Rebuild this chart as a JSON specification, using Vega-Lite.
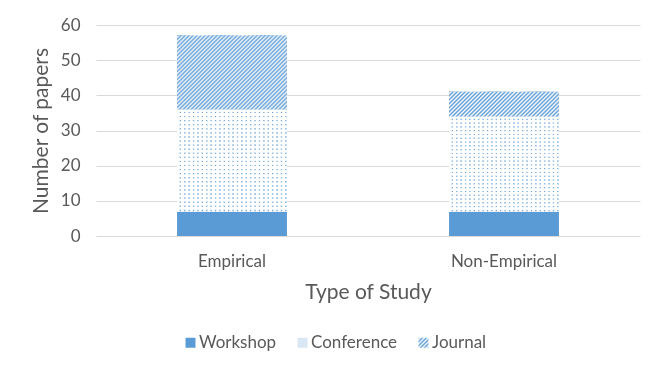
{
  "$schema": "https://vega.github.io/schema/vega-lite/v6.json",
  "width": 544,
  "height": 211,
  "autosize": "none",
  "padding": {"left": 96, "top": 25, "right": 12, "bottom": 132},
  "background": "white",
  "data": {
    "values": [
      {"study": "Empirical", "type": "Workshop", "papers": 7},
      {"study": "Empirical", "type": "Conference", "papers": 29},
      {"study": "Empirical", "type": "Journal", "papers": 21},
      {"study": "Non-Empirical", "type": "Workshop", "papers": 7},
      {"study": "Non-Empirical", "type": "Conference", "papers": 27},
      {"study": "Non-Empirical", "type": "Journal", "papers": 7}
    ]
  },
  "transform": [
    {"stack": "papers", "groupby": ["study"], "as": ["y0", "y1"]}
  ],
  "encoding": {
    "x": {
      "field": "study",
      "type": "nominal",
      "sort": ["Empirical", "Non-Empirical"],
      "scale": {"paddingInner": 0.596, "paddingOuter": 0.298},
      "axis": {
        "title": "Type of Study",
        "labelAngle": 0,
        "domain": false,
        "ticks": false,
        "labelPadding": 17,
        "titlePadding": 12,
        "labelFontSize": 17,
        "titleFontSize": 21
      }
    },
    "y": {
      "field": "y1",
      "type": "quantitative",
      "scale": {"domain": [0, 60]},
      "axis": {
        "title": "Number of papers",
        "values": [0, 10, 20, 30, 40, 50, 60],
        "domain": false,
        "ticks": false,
        "labelPadding": 16,
        "titlePadding": 9,
        "labelFontSize": 17,
        "titleFontSize": 21
      }
    },
    "y2": {"field": "y0"}
  },
  "layer": [
    {
      "transform": [{"filter": "datum.type === 'Journal'"}],
      "mark": {
        "type": "bar",
        "fill": {"gradient": "linear", "id": "jl", "x1": 0, "y1": 0, "x2": 1, "y2": 1, "stops": [
          {"offset": 0, "color": "#5b9bd5"}, {"offset": 0.1, "color": "#ffffff"},
          {"offset": 0.2, "color": "#5b9bd5"}, {"offset": 0.3, "color": "#ffffff"},
          {"offset": 0.4, "color": "#5b9bd5"}, {"offset": 0.5, "color": "#ffffff"},
          {"offset": 0.6, "color": "#5b9bd5"}, {"offset": 0.7, "color": "#ffffff"},
          {"offset": 0.8, "color": "#5b9bd5"}, {"offset": 0.9, "color": "#ffffff"},
          {"offset": 1, "color": "#5b9bd5"}
        ]}
      }
    },
    {
      "mark": {"type": "bar"},
      "encoding": {
        "color": {
          "field": "type",
          "type": "nominal",
          "scale": {
            "domain": ["Workshop", "Conference", "Journal"],
            "range": ["#5b9bd5", "#d9e6f4", "url(#jl)"]
          },
          "legend": {
            "title": null,
            "orient": "none",
            "legendX": 86,
            "legendY": 309,
            "direction": "horizontal",
            "symbolType": "square",
            "symbolSize": 100,
            "symbolStrokeWidth": 0,
            "labelFontSize": 17,
            "labelColor": "#595959",
            "labelOffset": 0,
            "columnPadding": 17
          }
        }
      }
    },
    {
      "transform": [{"filter": "datum.type === 'Conference'"}],
      "mark": {
        "type": "bar",
        "fill": {"gradient": "linear", "x1": 0, "y1": 0, "x2": 1, "y2": 0, "stops": [
          {"offset": 0, "color": "#fff"}, {"offset": 0.02, "color": "#fff"}, {"offset": 0.03, "color": "#5b9bd5"},
          {"offset": 0.04, "color": "#fff"}, {"offset": 0.06, "color": "#fff"}, {"offset": 0.07, "color": "#5b9bd5"},
          {"offset": 0.08, "color": "#fff"}, {"offset": 0.10, "color": "#fff"}, {"offset": 0.11, "color": "#5b9bd5"},
          {"offset": 0.12, "color": "#fff"}, {"offset": 0.14, "color": "#fff"}, {"offset": 0.15, "color": "#5b9bd5"},
          {"offset": 0.16, "color": "#fff"}, {"offset": 0.18, "color": "#fff"}, {"offset": 0.19, "color": "#5b9bd5"},
          {"offset": 0.20, "color": "#fff"}, {"offset": 0.22, "color": "#fff"}, {"offset": 0.23, "color": "#5b9bd5"},
          {"offset": 0.24, "color": "#fff"}, {"offset": 0.26, "color": "#fff"}, {"offset": 0.27, "color": "#5b9bd5"},
          {"offset": 0.28, "color": "#fff"}, {"offset": 0.30, "color": "#fff"}, {"offset": 0.31, "color": "#5b9bd5"},
          {"offset": 0.32, "color": "#fff"}, {"offset": 0.34, "color": "#fff"}, {"offset": 0.35, "color": "#5b9bd5"},
          {"offset": 0.36, "color": "#fff"}, {"offset": 0.38, "color": "#fff"}, {"offset": 0.39, "color": "#5b9bd5"},
          {"offset": 0.40, "color": "#fff"}, {"offset": 0.42, "color": "#fff"}, {"offset": 0.43, "color": "#5b9bd5"},
          {"offset": 0.44, "color": "#fff"}, {"offset": 0.46, "color": "#fff"}, {"offset": 0.47, "color": "#5b9bd5"},
          {"offset": 0.48, "color": "#fff"}, {"offset": 0.50, "color": "#fff"}, {"offset": 0.51, "color": "#5b9bd5"},
          {"offset": 0.52, "color": "#fff"}, {"offset": 0.54, "color": "#fff"}, {"offset": 0.55, "color": "#5b9bd5"},
          {"offset": 0.56, "color": "#fff"}, {"offset": 0.58, "color": "#fff"}, {"offset": 0.59, "color": "#5b9bd5"},
          {"offset": 0.60, "color": "#fff"}, {"offset": 0.62, "color": "#fff"}, {"offset": 0.63, "color": "#5b9bd5"},
          {"offset": 0.64, "color": "#fff"}, {"offset": 0.66, "color": "#fff"}, {"offset": 0.67, "color": "#5b9bd5"},
          {"offset": 0.68, "color": "#fff"}, {"offset": 0.70, "color": "#fff"}, {"offset": 0.71, "color": "#5b9bd5"},
          {"offset": 0.72, "color": "#fff"}, {"offset": 0.74, "color": "#fff"}, {"offset": 0.75, "color": "#5b9bd5"},
          {"offset": 0.76, "color": "#fff"}, {"offset": 0.78, "color": "#fff"}, {"offset": 0.79, "color": "#5b9bd5"},
          {"offset": 0.80, "color": "#fff"}, {"offset": 0.82, "color": "#fff"}, {"offset": 0.83, "color": "#5b9bd5"},
          {"offset": 0.84, "color": "#fff"}, {"offset": 0.86, "color": "#fff"}, {"offset": 0.87, "color": "#5b9bd5"},
          {"offset": 0.88, "color": "#fff"}, {"offset": 0.90, "color": "#fff"}, {"offset": 0.91, "color": "#5b9bd5"},
          {"offset": 0.92, "color": "#fff"}, {"offset": 0.94, "color": "#fff"}, {"offset": 0.95, "color": "#5b9bd5"},
          {"offset": 0.96, "color": "#fff"}, {"offset": 0.98, "color": "#fff"}, {"offset": 0.99, "color": "#5b9bd5"},
          {"offset": 1, "color": "#fff"}
        ]}
      }
    },
    {
      "transform": [{"filter": "datum.type === 'Conference'"}],
      "mark": {
        "type": "bar",
        "blend": "lighten",
        "fill": {"gradient": "linear", "x1": 0, "y1": 0, "x2": 0, "y2": 1, "stops": [
          {"offset": 0, "color": "#fff"}, {"offset": 0.02, "color": "#fff"}, {"offset": 0.03, "color": "#5b9bd5"},
          {"offset": 0.04, "color": "#fff"}, {"offset": 0.06, "color": "#fff"}, {"offset": 0.07, "color": "#5b9bd5"},
          {"offset": 0.08, "color": "#fff"}, {"offset": 0.10, "color": "#fff"}, {"offset": 0.11, "color": "#5b9bd5"},
          {"offset": 0.12, "color": "#fff"}, {"offset": 0.14, "color": "#fff"}, {"offset": 0.15, "color": "#5b9bd5"},
          {"offset": 0.16, "color": "#fff"}, {"offset": 0.18, "color": "#fff"}, {"offset": 0.19, "color": "#5b9bd5"},
          {"offset": 0.20, "color": "#fff"}, {"offset": 0.22, "color": "#fff"}, {"offset": 0.23, "color": "#5b9bd5"},
          {"offset": 0.24, "color": "#fff"}, {"offset": 0.26, "color": "#fff"}, {"offset": 0.27, "color": "#5b9bd5"},
          {"offset": 0.28, "color": "#fff"}, {"offset": 0.30, "color": "#fff"}, {"offset": 0.31, "color": "#5b9bd5"},
          {"offset": 0.32, "color": "#fff"}, {"offset": 0.34, "color": "#fff"}, {"offset": 0.35, "color": "#5b9bd5"},
          {"offset": 0.36, "color": "#fff"}, {"offset": 0.38, "color": "#fff"}, {"offset": 0.39, "color": "#5b9bd5"},
          {"offset": 0.40, "color": "#fff"}, {"offset": 0.42, "color": "#fff"}, {"offset": 0.43, "color": "#5b9bd5"},
          {"offset": 0.44, "color": "#fff"}, {"offset": 0.46, "color": "#fff"}, {"offset": 0.47, "color": "#5b9bd5"},
          {"offset": 0.48, "color": "#fff"}, {"offset": 0.50, "color": "#fff"}, {"offset": 0.51, "color": "#5b9bd5"},
          {"offset": 0.52, "color": "#fff"}, {"offset": 0.54, "color": "#fff"}, {"offset": 0.55, "color": "#5b9bd5"},
          {"offset": 0.56, "color": "#fff"}, {"offset": 0.58, "color": "#fff"}, {"offset": 0.59, "color": "#5b9bd5"},
          {"offset": 0.60, "color": "#fff"}, {"offset": 0.62, "color": "#fff"}, {"offset": 0.63, "color": "#5b9bd5"},
          {"offset": 0.64, "color": "#fff"}, {"offset": 0.66, "color": "#fff"}, {"offset": 0.67, "color": "#5b9bd5"},
          {"offset": 0.68, "color": "#fff"}, {"offset": 0.70, "color": "#fff"}, {"offset": 0.71, "color": "#5b9bd5"},
          {"offset": 0.72, "color": "#fff"}, {"offset": 0.74, "color": "#fff"}, {"offset": 0.75, "color": "#5b9bd5"},
          {"offset": 0.76, "color": "#fff"}, {"offset": 0.78, "color": "#fff"}, {"offset": 0.79, "color": "#5b9bd5"},
          {"offset": 0.80, "color": "#fff"}, {"offset": 0.82, "color": "#fff"}, {"offset": 0.83, "color": "#5b9bd5"},
          {"offset": 0.84, "color": "#fff"}, {"offset": 0.86, "color": "#fff"}, {"offset": 0.87, "color": "#5b9bd5"},
          {"offset": 0.88, "color": "#fff"}, {"offset": 0.90, "color": "#fff"}, {"offset": 0.91, "color": "#5b9bd5"},
          {"offset": 0.92, "color": "#fff"}, {"offset": 0.94, "color": "#fff"}, {"offset": 0.95, "color": "#5b9bd5"},
          {"offset": 0.96, "color": "#fff"}, {"offset": 0.98, "color": "#fff"}, {"offset": 0.99, "color": "#5b9bd5"},
          {"offset": 1, "color": "#fff"}
        ]}
      }
    },
    {
      "transform": [{"filter": "datum.type === 'Journal'"}],
      "mark": {"type": "bar"},
      "encoding": {
        "fill": {
          "condition": {
            "test": "datum.study === 'Empirical'",
            "value": {"gradient": "linear", "x1": 0, "y1": 0, "x2": 1.2533, "y2": 0.8414, "stops": [
              {"offset": 0.00, "color": "#5b9bd5"}, {"offset": 0.01, "color": "#fff"}, {"offset": 0.02, "color": "#5b9bd5"}, {"offset": 0.03, "color": "#fff"},
              {"offset": 0.04, "color": "#5b9bd5"}, {"offset": 0.05, "color": "#fff"}, {"offset": 0.06, "color": "#5b9bd5"}, {"offset": 0.07, "color": "#fff"},
              {"offset": 0.08, "color": "#5b9bd5"}, {"offset": 0.09, "color": "#fff"}, {"offset": 0.10, "color": "#5b9bd5"}, {"offset": 0.11, "color": "#fff"},
              {"offset": 0.12, "color": "#5b9bd5"}, {"offset": 0.13, "color": "#fff"}, {"offset": 0.14, "color": "#5b9bd5"}, {"offset": 0.15, "color": "#fff"},
              {"offset": 0.16, "color": "#5b9bd5"}, {"offset": 0.17, "color": "#fff"}, {"offset": 0.18, "color": "#5b9bd5"}, {"offset": 0.19, "color": "#fff"},
              {"offset": 0.20, "color": "#5b9bd5"}, {"offset": 0.21, "color": "#fff"}, {"offset": 0.22, "color": "#5b9bd5"}, {"offset": 0.23, "color": "#fff"},
              {"offset": 0.24, "color": "#5b9bd5"}, {"offset": 0.25, "color": "#fff"}, {"offset": 0.26, "color": "#5b9bd5"}, {"offset": 0.27, "color": "#fff"},
              {"offset": 0.28, "color": "#5b9bd5"}, {"offset": 0.29, "color": "#fff"}, {"offset": 0.30, "color": "#5b9bd5"}, {"offset": 0.31, "color": "#fff"},
              {"offset": 0.32, "color": "#5b9bd5"}, {"offset": 0.33, "color": "#fff"}, {"offset": 0.34, "color": "#5b9bd5"}, {"offset": 0.35, "color": "#fff"},
              {"offset": 0.36, "color": "#5b9bd5"}, {"offset": 0.37, "color": "#fff"}, {"offset": 0.38, "color": "#5b9bd5"}, {"offset": 0.39, "color": "#fff"},
              {"offset": 0.40, "color": "#5b9bd5"}, {"offset": 0.41, "color": "#fff"}, {"offset": 0.42, "color": "#5b9bd5"}, {"offset": 0.43, "color": "#fff"},
              {"offset": 0.44, "color": "#5b9bd5"}, {"offset": 0.45, "color": "#fff"}, {"offset": 0.46, "color": "#5b9bd5"}, {"offset": 0.47, "color": "#fff"},
              {"offset": 0.48, "color": "#5b9bd5"}, {"offset": 0.49, "color": "#fff"}, {"offset": 0.50, "color": "#5b9bd5"}, {"offset": 0.51, "color": "#fff"},
              {"offset": 0.52, "color": "#5b9bd5"}, {"offset": 0.53, "color": "#fff"}, {"offset": 0.54, "color": "#5b9bd5"}, {"offset": 0.55, "color": "#fff"},
              {"offset": 0.56, "color": "#5b9bd5"}, {"offset": 0.57, "color": "#fff"}, {"offset": 0.58, "color": "#5b9bd5"}, {"offset": 0.59, "color": "#fff"},
              {"offset": 0.60, "color": "#5b9bd5"}, {"offset": 0.61, "color": "#fff"}, {"offset": 0.62, "color": "#5b9bd5"}, {"offset": 0.63, "color": "#fff"},
              {"offset": 0.64, "color": "#5b9bd5"}, {"offset": 0.65, "color": "#fff"}, {"offset": 0.66, "color": "#5b9bd5"}, {"offset": 0.67, "color": "#fff"},
              {"offset": 0.68, "color": "#5b9bd5"}, {"offset": 0.69, "color": "#fff"}, {"offset": 0.70, "color": "#5b9bd5"}, {"offset": 0.71, "color": "#fff"},
              {"offset": 0.72, "color": "#5b9bd5"}, {"offset": 0.73, "color": "#fff"}, {"offset": 0.74, "color": "#5b9bd5"}, {"offset": 0.75, "color": "#fff"},
              {"offset": 0.76, "color": "#5b9bd5"}, {"offset": 0.77, "color": "#fff"}, {"offset": 0.78, "color": "#5b9bd5"}, {"offset": 0.79, "color": "#fff"},
              {"offset": 0.80, "color": "#5b9bd5"}, {"offset": 0.81, "color": "#fff"}, {"offset": 0.82, "color": "#5b9bd5"}, {"offset": 0.83, "color": "#fff"},
              {"offset": 0.84, "color": "#5b9bd5"}, {"offset": 0.85, "color": "#fff"}, {"offset": 0.86, "color": "#5b9bd5"}, {"offset": 0.87, "color": "#fff"},
              {"offset": 0.88, "color": "#5b9bd5"}, {"offset": 0.89, "color": "#fff"}, {"offset": 0.90, "color": "#5b9bd5"}, {"offset": 0.91, "color": "#fff"},
              {"offset": 0.92, "color": "#5b9bd5"}, {"offset": 0.93, "color": "#fff"}, {"offset": 0.94, "color": "#5b9bd5"}, {"offset": 0.95, "color": "#fff"},
              {"offset": 0.96, "color": "#5b9bd5"}, {"offset": 0.97, "color": "#fff"}, {"offset": 0.98, "color": "#5b9bd5"}, {"offset": 0.99, "color": "#fff"},
              {"offset": 1, "color": "#5b9bd5"}
            ]}
          },
          "value": {"gradient": "linear", "x1": 0, "y1": 0, "x2": 1.7316, "y2": 0.3873, "stops": [
            {"offset": 0.00, "color": "#5b9bd5"}, {"offset": 0.01, "color": "#fff"}, {"offset": 0.02, "color": "#5b9bd5"}, {"offset": 0.03, "color": "#fff"},
            {"offset": 0.04, "color": "#5b9bd5"}, {"offset": 0.05, "color": "#fff"}, {"offset": 0.06, "color": "#5b9bd5"}, {"offset": 0.07, "color": "#fff"},
            {"offset": 0.08, "color": "#5b9bd5"}, {"offset": 0.09, "color": "#fff"}, {"offset": 0.10, "color": "#5b9bd5"}, {"offset": 0.11, "color": "#fff"},
            {"offset": 0.12, "color": "#5b9bd5"}, {"offset": 0.13, "color": "#fff"}, {"offset": 0.14, "color": "#5b9bd5"}, {"offset": 0.15, "color": "#fff"},
            {"offset": 0.16, "color": "#5b9bd5"}, {"offset": 0.17, "color": "#fff"}, {"offset": 0.18, "color": "#5b9bd5"}, {"offset": 0.19, "color": "#fff"},
            {"offset": 0.20, "color": "#5b9bd5"}, {"offset": 0.21, "color": "#fff"}, {"offset": 0.22, "color": "#5b9bd5"}, {"offset": 0.23, "color": "#fff"},
            {"offset": 0.24, "color": "#5b9bd5"}, {"offset": 0.25, "color": "#fff"}, {"offset": 0.26, "color": "#5b9bd5"}, {"offset": 0.27, "color": "#fff"},
            {"offset": 0.28, "color": "#5b9bd5"}, {"offset": 0.29, "color": "#fff"}, {"offset": 0.30, "color": "#5b9bd5"}, {"offset": 0.31, "color": "#fff"},
            {"offset": 0.32, "color": "#5b9bd5"}, {"offset": 0.33, "color": "#fff"}, {"offset": 0.34, "color": "#5b9bd5"}, {"offset": 0.35, "color": "#fff"},
            {"offset": 0.36, "color": "#5b9bd5"}, {"offset": 0.37, "color": "#fff"}, {"offset": 0.38, "color": "#5b9bd5"}, {"offset": 0.39, "color": "#fff"},
            {"offset": 0.40, "color": "#5b9bd5"}, {"offset": 0.41, "color": "#fff"}, {"offset": 0.42, "color": "#5b9bd5"}, {"offset": 0.43, "color": "#fff"},
            {"offset": 0.44, "color": "#5b9bd5"}, {"offset": 0.45, "color": "#fff"}, {"offset": 0.46, "color": "#5b9bd5"}, {"offset": 0.47, "color": "#fff"},
            {"offset": 0.48, "color": "#5b9bd5"}, {"offset": 0.49, "color": "#fff"}, {"offset": 0.50, "color": "#5b9bd5"}, {"offset": 0.51, "color": "#fff"},
            {"offset": 0.52, "color": "#5b9bd5"}, {"offset": 0.53, "color": "#fff"}, {"offset": 0.54, "color": "#5b9bd5"}, {"offset": 0.55, "color": "#fff"},
            {"offset": 0.56, "color": "#5b9bd5"}, {"offset": 0.57, "color": "#fff"}, {"offset": 0.58, "color": "#5b9bd5"}, {"offset": 0.59, "color": "#fff"},
            {"offset": 0.60, "color": "#5b9bd5"}, {"offset": 0.61, "color": "#fff"}, {"offset": 0.62, "color": "#5b9bd5"}, {"offset": 0.63, "color": "#fff"},
            {"offset": 0.64, "color": "#5b9bd5"}, {"offset": 0.65, "color": "#fff"}, {"offset": 0.66, "color": "#5b9bd5"}, {"offset": 0.67, "color": "#fff"},
            {"offset": 0.68, "color": "#5b9bd5"}, {"offset": 0.69, "color": "#fff"}, {"offset": 0.70, "color": "#5b9bd5"}, {"offset": 0.71, "color": "#fff"},
            {"offset": 0.72, "color": "#5b9bd5"}, {"offset": 0.73, "color": "#fff"}, {"offset": 0.74, "color": "#5b9bd5"}, {"offset": 0.75, "color": "#fff"},
            {"offset": 0.76, "color": "#5b9bd5"}, {"offset": 0.77, "color": "#fff"}, {"offset": 0.78, "color": "#5b9bd5"}, {"offset": 0.79, "color": "#fff"},
            {"offset": 0.80, "color": "#5b9bd5"}, {"offset": 0.81, "color": "#fff"}, {"offset": 0.82, "color": "#5b9bd5"}, {"offset": 0.83, "color": "#fff"},
            {"offset": 0.84, "color": "#5b9bd5"}, {"offset": 0.85, "color": "#fff"}, {"offset": 0.86, "color": "#5b9bd5"}, {"offset": 0.87, "color": "#fff"},
            {"offset": 0.88, "color": "#5b9bd5"}, {"offset": 0.89, "color": "#fff"}, {"offset": 0.90, "color": "#5b9bd5"}, {"offset": 0.91, "color": "#fff"},
            {"offset": 0.92, "color": "#5b9bd5"}, {"offset": 0.93, "color": "#fff"}, {"offset": 0.94, "color": "#5b9bd5"}, {"offset": 0.95, "color": "#fff"},
            {"offset": 0.96, "color": "#5b9bd5"}, {"offset": 0.97, "color": "#fff"}, {"offset": 0.98, "color": "#5b9bd5"}, {"offset": 0.99, "color": "#fff"},
            {"offset": 1, "color": "#5b9bd5"}
          ]}
        }
      }
    }
  ],
  "config": {
    "font": "Lato",
    "view": {"stroke": null},
    "axis": {
      "labelColor": "#595959",
      "titleColor": "#595959",
      "titleFontWeight": "normal",
      "gridColor": "#d9d9d9",
      "gridWidth": 1
    },
    "axisX": {"grid": false}
  }
}
